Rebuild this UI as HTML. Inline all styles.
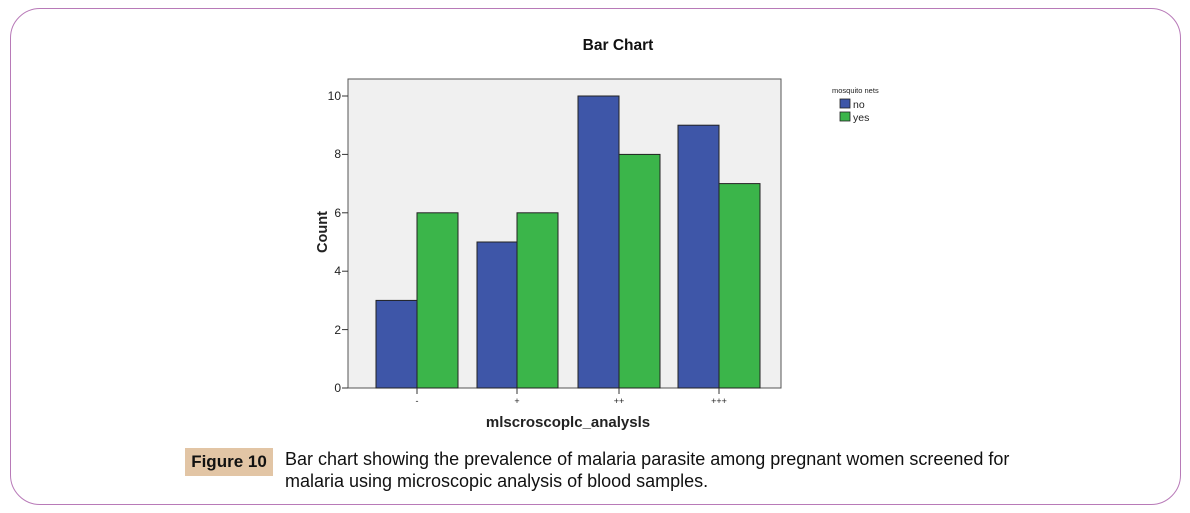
<!DOCTYPE html>
<html><head><meta charset="utf-8"><style>
body{margin:0;width:1190px;height:513px;background:#fff;position:relative;overflow:hidden;font-family:"Liberation Sans",Arial,sans-serif}
.frame{position:absolute;left:10px;top:8px;width:1171px;height:497px;border:1.5px solid #b87ab8;border-radius:30px;box-sizing:border-box}
.fig{position:absolute;left:185px;top:448px;width:88px;height:28px;background:#e2c5a5;font-size:17px;font-weight:bold;line-height:28px;text-align:center;color:#111}
.cap{position:absolute;left:285px;top:448px;font-size:18px;line-height:22px;color:#111;font-family:"Liberation Sans",sans-serif;white-space:nowrap}
</style></head><body>
<div class="frame"></div>
<svg width="1190" height="513" style="position:absolute;left:0;top:0">
<text x="618" y="50" font-size="15.5" font-weight="bold" text-anchor="middle" fill="#111">Bar Chart</text>
<rect x="348" y="79" width="433" height="309" fill="#f0f0f0" stroke="#555" stroke-width="1"/>
<g stroke="#222" stroke-width="1">
<rect x="376" y="300.4" width="41" height="87.6" fill="#3e56a8"/>
<rect x="417" y="212.8" width="41" height="175.2" fill="#3bb54a"/>
<rect x="477" y="242" width="40" height="146" fill="#3e56a8"/>
<rect x="517" y="212.8" width="41" height="175.2" fill="#3bb54a"/>
<rect x="578" y="96" width="41" height="292" fill="#3e56a8"/>
<rect x="619" y="154.4" width="41" height="233.6" fill="#3bb54a"/>
<rect x="678" y="125.2" width="41" height="262.8" fill="#3e56a8"/>
<rect x="719" y="183.6" width="41" height="204.4" fill="#3bb54a"/>
</g>
<g stroke="#333" stroke-width="1">
<line x1="342" y1="388" x2="348" y2="388"/><line x1="342" y1="329.6" x2="348" y2="329.6"/><line x1="342" y1="271.2" x2="348" y2="271.2"/><line x1="342" y1="212.8" x2="348" y2="212.8"/><line x1="342" y1="154.4" x2="348" y2="154.4"/><line x1="342" y1="96" x2="348" y2="96"/>
<line x1="417" y1="388" x2="417" y2="394"/><line x1="517" y1="388" x2="517" y2="394"/><line x1="619" y1="388" x2="619" y2="394"/><line x1="719" y1="388" x2="719" y2="394"/>
</g>
<g font-size="12" fill="#222" text-anchor="end">
<text x="341" y="392">0</text><text x="341" y="334">2</text><text x="341" y="275">4</text><text x="341" y="217">6</text><text x="341" y="158">8</text><text x="341" y="100">10</text>
</g>
<g font-size="9" fill="#222" text-anchor="middle">
<text x="417" y="404">-</text><text x="517" y="404">+</text><text x="619" y="404">++</text><text x="719" y="404">+++</text>
</g>
<text x="568" y="427" font-size="15" font-weight="bold" text-anchor="middle" fill="#222">mlscroscoplc_analysls</text>
<text transform="translate(327,232) rotate(-90)" font-size="14.5" font-weight="bold" text-anchor="middle" fill="#222">Count</text>
<text x="832" y="93" font-size="7.5" fill="#222">mosquito nets</text>
<rect x="840" y="99" width="10" height="9" fill="#3e56a8" stroke="#222" stroke-width="0.8"/>
<text x="853" y="108" font-size="10.5" fill="#222">no</text>
<rect x="840" y="112" width="10" height="9" fill="#3bb54a" stroke="#222" stroke-width="0.8"/>
<text x="853" y="121" font-size="10.5" fill="#222">yes</text>
</svg>
<div class="fig">Figure 10</div>
<div class="cap">Bar chart showing the prevalence of malaria parasite among pregnant women screened for<br>malaria using microscopic analysis of blood samples.</div>
</body></html>
